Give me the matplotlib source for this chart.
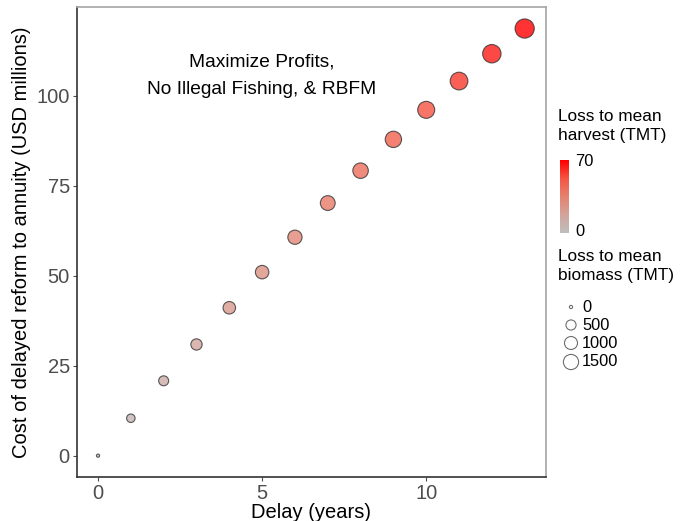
import numpy as np
import matplotlib.pyplot as plt
from matplotlib.colors import LinearSegmentedColormap

plt.rcParams['font.family'] = ['Liberation Sans', 'DejaVu Sans']

# delay in years, cost in USD millions
delay = [0, 1, 2, 3, 4, 5, 6, 7, 8, 9, 10, 11, 12, 13]
cost = [0, 10.4, 20.8, 30.9, 41.1, 51.0, 60.7, 70.2, 79.2, 87.9, 96.1, 104.1, 111.7, 118.7]
# loss to mean harvest (TMT) -> colour
harvest_loss = [0, 6, 12, 17, 23, 28, 33, 38, 43, 48, 53, 58, 64, 70]
# loss to mean biomass (TMT) -> size
biomass_loss = [0, 290, 480, 680, 900, 1100, 1260, 1400, 1570, 1790, 1980, 2190, 2400, 2660]

size_breaks = [0, 500, 1000, 1500]
harvest_limits = (0, 70)

W, H, DPI = 689, 521, 100
PX = 72.0 / DPI  # points per pixel


def marker_area(v):
    # diameter in pixels grows with sqrt of the value, area given in pt^2
    d = 3.2 + 0.31 * np.sqrt(np.asarray(v, dtype=float))
    return (d * PX) ** 2


# grey -> red gradient, roughly Lab-like interpolation
cmap = LinearSegmentedColormap.from_list(
    'grey_red',
    [(0.0, '#bebebe'), (0.25, '#d2a49b'), (0.5, '#e5826f'),
     (0.75, '#f55543'), (1.0, '#ff0000')])

fig = plt.figure(figsize=(W / DPI, H / DPI), dpi=DPI)
ax = fig.add_axes([76.7 / W, 1 - 477 / H, (546 - 76.7) / W, (477 - 7.3) / H])

ax.scatter(delay, cost, s=marker_area(biomass_loss), c=harvest_loss, cmap=cmap,
           vmin=harvest_limits[0], vmax=harvest_limits[1], alpha=0.8,
           edgecolors='#333333', linewidths=0.8, zorder=3)

ax.set_xlim(-0.65, 13.65)
ax.set_ylim(-5.93, 124.6)
ax.set_xticks([0, 5, 10])
ax.set_yticks([0, 25, 50, 75, 100])
ax.tick_params(axis='both', labelsize=14.5, labelcolor='#4d4d4d', colors='#4d4d4d',
               length=3, width=0.8, pad=2)
for side in ['left', 'bottom']:
    ax.spines[side].set_color('#333333')
    ax.spines[side].set_linewidth(1.2)
for side in ['top', 'right']:
    ax.spines[side].set_color('#a6a6a6')
    ax.spines[side].set_linewidth(1.2)

ax.set_xlabel('Delay (years)', fontsize=14.5, labelpad=0)
ax.set_ylabel('Cost of delayed reform to annuity (USD millions)', fontsize=14.5, labelpad=4)

ax.text(5.0, 105.6, 'Maximize Profits,\nNo Illegal Fishing, & RBFM', ha='center', va='center',
        fontsize=13.8, linespacing=1.78)

# legend area drawn in pixel coordinates
leg = fig.add_axes([0, 0, 1, 1])
leg.set_xlim(0, W)
leg.set_ylim(H, 0)
leg.axis('off')
leg.patch.set_alpha(0)

leg.text(558, 109, 'Loss to mean\nharvest (TMT)', ha='left', va='top', fontsize=12.4,
         linespacing=1.3)

cb_ax = fig.add_axes([560 / W, 1 - 233 / H, 9 / W, 73 / H])
grad = np.linspace(harvest_limits[0], harvest_limits[1], 200).reshape(-1, 1)
cb_ax.imshow(grad, aspect='auto', cmap=cmap, origin='lower',
             vmin=harvest_limits[0], vmax=harvest_limits[1],
             extent=[0, 1, harvest_limits[0], harvest_limits[1]])
cb_ax.set_xticks([])
cb_ax.set_yticks([])
for s in cb_ax.spines.values():
    s.set_visible(False)
leg.text(575, 161, str(harvest_limits[1]), ha='left', va='center', fontsize=11.8)
leg.text(575, 232, str(harvest_limits[0]), ha='left', va='center', fontsize=11.8)

leg.text(558, 249, 'Loss to mean\nbiomass (TMT)', ha='left', va='top', fontsize=12.4,
         linespacing=1.3)
key_y = [307, 325, 343, 362]
leg.scatter([571] * len(size_breaks), key_y, s=marker_area(size_breaks), facecolors='none',
            edgecolors='#6e6e6e', linewidths=0.8)
for yk, b in zip(key_y, size_breaks):
    leg.text(582, yk, str(b), ha='left', va='center', fontsize=11.8)

fig.savefig('out.png', dpi=DPI)
